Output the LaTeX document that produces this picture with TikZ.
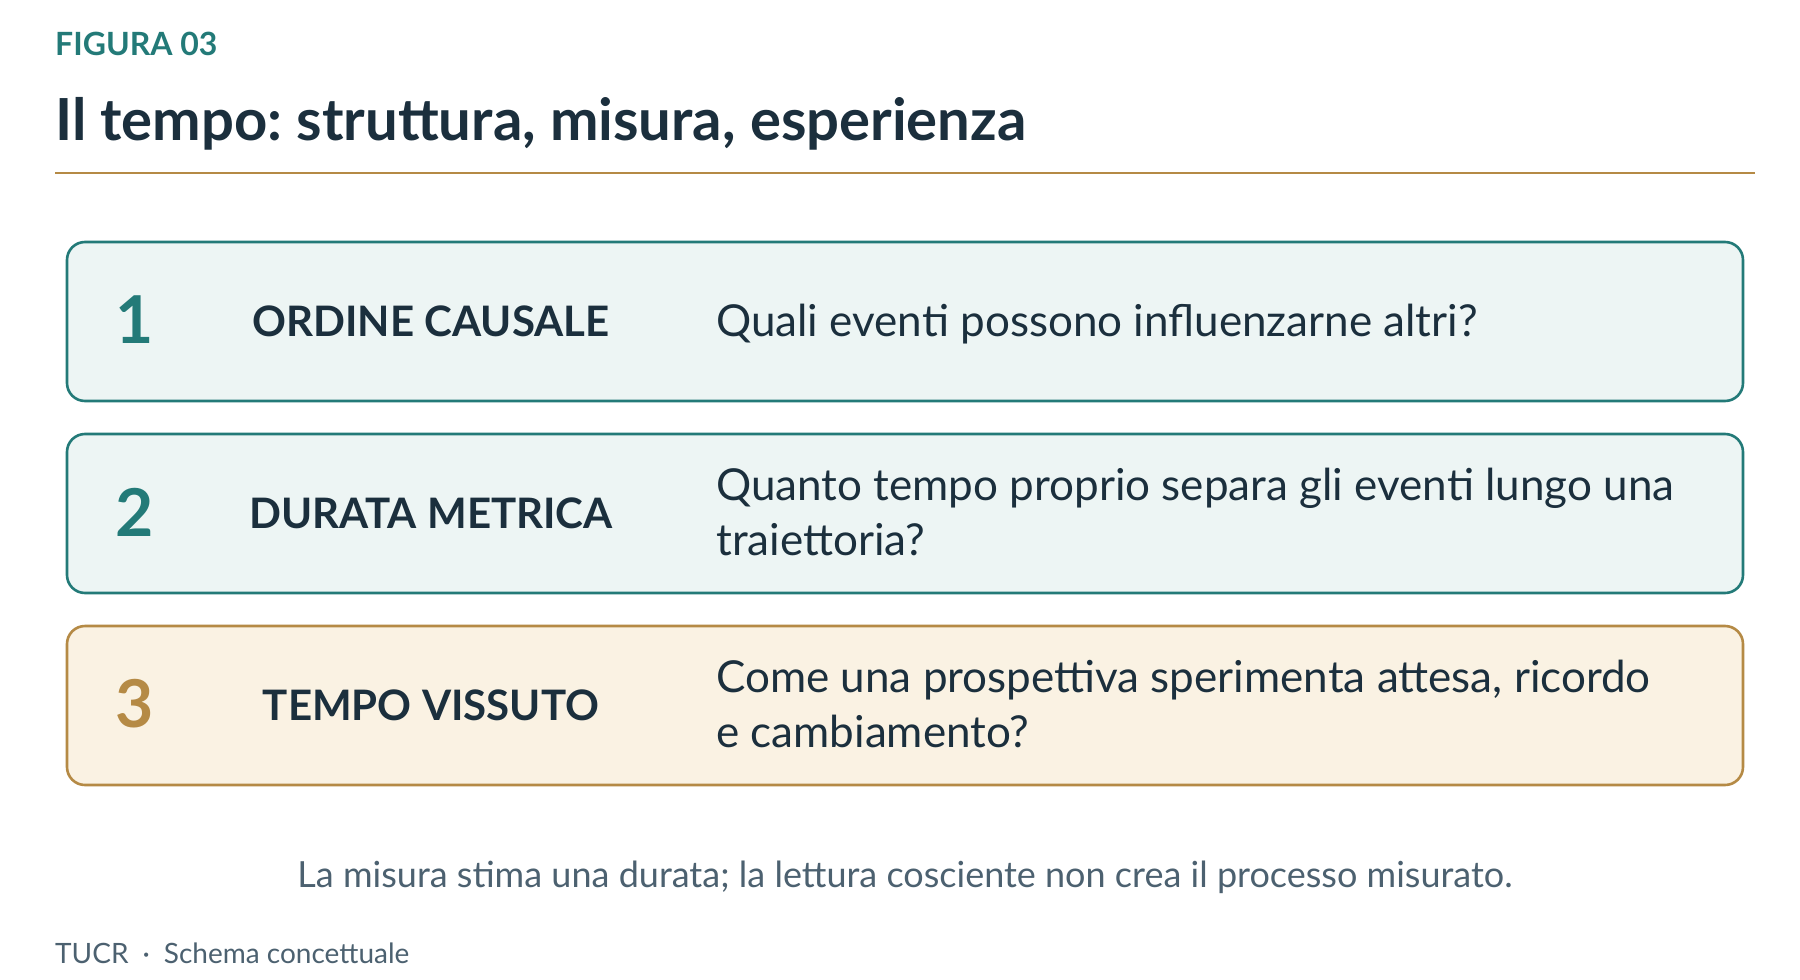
\documentclass[tikz,border=0pt]{standalone}
\usepackage{fontspec}
\setmainfont{Lato}
\frenchspacing
\definecolor{teal}{HTML}{237A78}
\definecolor{gold}{HTML}{B58A45}
\definecolor{ink}{HTML}{1B2F3D}
\definecolor{tealfill}{HTML}{EDF5F4}
\definecolor{goldfill}{HTML}{FAF2E3}
\definecolor{muted}{HTML}{4C6170}
\tikzset{
  rowbox/.style={draw=#1, line width=2.6pt, rounded corners=18pt},
  numlabel/.style={font=\bfseries\fontsize{66}{66}\selectfont, text=#1, anchor=center, inner sep=0pt},
  keylabel/.style={font=\bfseries\fontsize{42}{42}\selectfont, text=ink, anchor=center, inner sep=0pt},
  desc/.style={font=\fontsize{44}{55}\selectfont, text=ink, anchor=west, align=left, inner sep=0pt},
}
\begin{document}
\begin{tikzpicture}[x=1pt,y=-1pt]
\useasboundingbox (0,0) rectangle (1800,980);
\fill[white] (0,0) rectangle (1800,980);
% header
\node[anchor=base west, inner sep=0pt, text=teal, font=\bfseries\fontsize{32}{32}\selectfont] (fig) at (55,55) {FIGURA 03};
\node[anchor=base west, inner sep=0pt, text=ink, font=\bfseries\fontsize{58}{58}\selectfont] (title) at (55,140) {Il tempo: struttura, misura, esperienza};
\draw[gold, line width=2.5pt] (55,173) -- (1755,173);
% rows
\draw[rowbox=teal, fill=tealfill] (67,242) rectangle (1743,401);
\node[numlabel=teal] (n1) at (135,320) {1};
\node[keylabel] (k1) at (431,321) {ORDINE CAUSALE};
\node[desc, anchor=base west] (d1) at (716,336) {Quali eventi possono influenzarne altri?};

\draw[rowbox=teal, fill=tealfill] (67,434) rectangle (1743,593);
\node[numlabel=teal] (n2) at (135,512) {2};
\node[keylabel] (k2) at (431,513) {DURATA METRICA};
\node[desc] (d2) at (716,512) {Quanto tempo proprio separa gli eventi lungo una\\traiettoria?};

\draw[rowbox=gold, fill=goldfill] (67,626) rectangle (1743,785);
\node[numlabel=gold] (n3) at (135,704) {3};
\node[keylabel] (k3) at (431,705) {TEMPO VISSUTO};
\node[desc] (d3) at (716,704) {Come una prospettiva sperimenta attesa, ricordo\\e cambiamento?};
% footer
\node[anchor=base, inner sep=0pt, text=muted, font=\fontsize{36}{36}\selectfont] (note) at (905,887) {La misura stima una durata; la lettura cosciente non crea il processo misurato.};
\node[anchor=base west, inner sep=0pt, text=muted, font=\fontsize{28}{28}\selectfont] (src) at (55,963) {TUCR\hspace{14pt}·\hspace{14pt}Schema concettuale};
\end{tikzpicture}
\end{document}
